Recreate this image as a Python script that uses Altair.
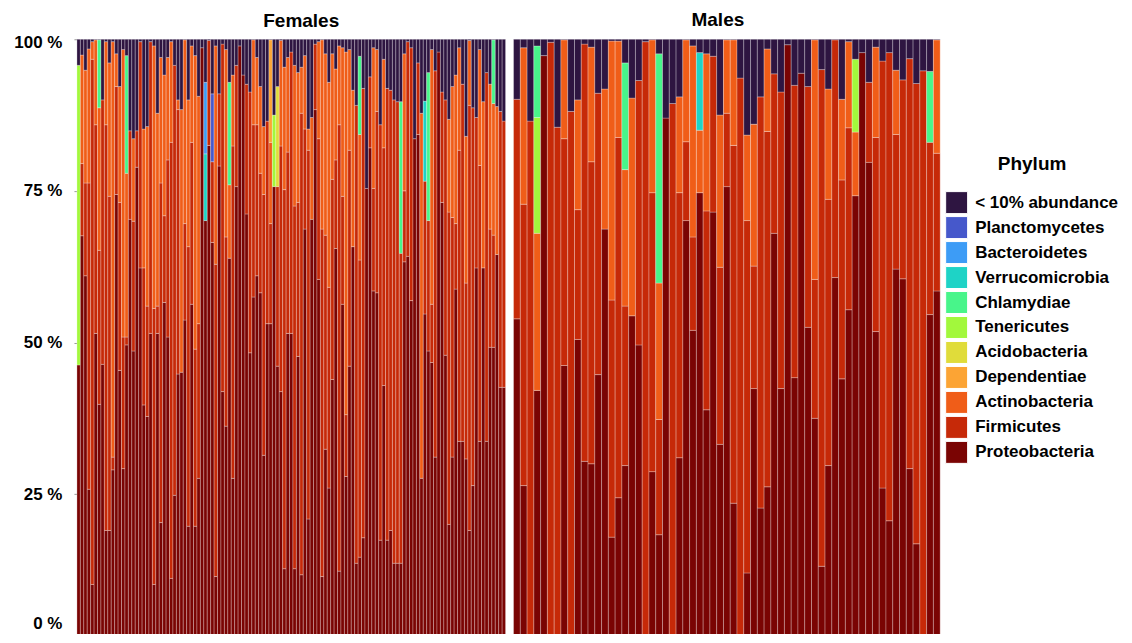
import altair as alt
import pandas as pd

PHYLA = ["< 10% abundance", "Planctomycetes", "Bacteroidetes", "Verrucomicrobia",
         "Chlamydiae", "Tenericutes", "Acidobacteria", "Dependentiae",
         "Actinobacteria", "Firmicutes", "Proteobacteria"]
COLORS = ["#2e1541", "#4658cb", "#3d9cf6", "#1ed3c6", "#48f58a", "#a2f83c",
          "#e0dc3a", "#fca434", "#f05d18", "#c62908", "#7a0403"]

# ---------------- Females (125 samples), % abundance ----------------
f_proteo = [46.3, 67.6, 61.0, 25.8, 10.1, 51.5, 39.8, 46.4, 19.0, 19.0,
            29.0, 74.4, 45.4, 29.2, 49.6, 70.3, 48.6, 78.9, 62.3, 39.7,
            37.8, 51.5, 10.1, 51.5, 20.3, 56.6, 50.9, 11.1, 24.8, 44.8,
            45.1, 53.7, 19.7, 56.3, 19.7, 27.6, 98.6, 70.1, 82.5, 66.5,
            11.4, 79.1, 41.9, 36.2, 63.9, 27.6, 75.7, 98.9, 94.1, 71.2,
            48.3, 57.5, 61.0, 58.2, 31.4, 53.1, 53.1, 75.7, 46.1, 41.9,
            12.7, 51.5, 51.5, 12.7, 47.7, 11.7, 68.7, 20.9, 70.3, 88.4,
            60.4, 11.4, 32.4, 26.0, 43.9, 65.5, 12.3, 56.3, 27.9, 46.1,
            65.8, 13.6, 14.6, 17.8, 75.4, 82.1, 58.5, 58.2, 17.4, 42.9,
            17.4, 19.0, 13.6, 13.6, 13.6, 63.3, 64.2, 56.9, 83.6, 84.3,
            27.6, 54.7, 48.6, 46.7, 31.1, 97.9, 73.1, 47.9, 20.0, 31.1,
            58.8, 33.7, 33.7, 30.8, 19.0, 26.4, 62.3, 33.7, 62.3, 33.7,
            49.2, 49.2, 64.5, 42.6, 42.6]
f_firmic = [0, 11.9, 15.3, 50.5, 86.6, 34.4, 25.4, 43.6, 66.9, 55.1,
            2.1, 17.8, 27.7, 21.7, 1.3, 14.6, 21.4, 6.0, 37.3, 22.6,
            18.2, 48.1, 45.5, 4.5, 56.0, 14.3, 29.2, 71.9, 70.9, 43.6,
            0, 15.9, 46.1, 26.7, 29.2, 25.5, 0, 0, 17.3, 13.3,
            51.5, 11.9, 57.3, 31.2, 0, 54.8, 20.0, 0, 0, 21.4,
            43.0, 28.4, 24.9, 19.7, 43.0, 33.4, 16.5, 0, 29.6, 40.5,
            62.5, 29.9, 46.4, 59.8, 25.4, 76.1, 16.5, 60.8, 0, 10.8,
            23.2, 57.3, 35.3, 33.1, 33.0, 14.6, 73.6, 17.8, 10.2, 35.6,
            0, 75.5, 49.0, 74.1, 0, 11.7, 16.9, 29.9, 68.5, 39.2,
            74.5, 72.6, 76.4, 76.1, 51.1, 11.7, 35.4, 41.7, 0, 11.8,
            0, 21.9, 21.5, 9.6, 63.7, 0, 18.2, 42.1, 51.5, 39.5,
            10.8, 48.0, 58.9, 29.0, 70.1, 62.3, 24.8, 45.5, 0, 60.8,
            19.5, 18.5, 0, 45.5, 43.9]
f_actino = [0, 17.9, 18.6, 22.1, 2.9, 14.0, 23.5, 0, 13.7, 22.0,
            68.5, 5.4, 19.1, 47.4, 27.0, 0, 13.6, 0, 0, 22.9,
            29.6, 0, 43.3, 31.8, 20.7, 23.2, 16.9, 16.6, 0, 1.6,
            43.3, 30.3, 24.2, 15.9, 48.4, 37.5, 0, 0, 0, 0,
            36.0, 0, 0, 30.9, 12.1, 11.7, 0, 0, 0, 0,
            0, 14.0, 11.1, 14.3, 11.2, 0, 13.4, 0, 0, 17.4,
            20.2, 15.6, 0, 23.2, 21.4, 7.6, 12.1, 3.5, 16.8, 0,
            16.0, 31.2, 29.9, 33.8, 20.7, 15.0, 13.0, 24.5, 59.8, 16.6,
            25.8, 0, 20.7, 0, 0, 0, 23.2, 10.2, 0, 14.6,
            0, 0, 0, 0, 0, 22.6, 0, 0, 0, 0,
            60.2, 0, 0, 42.0, 0, 0, 0, 0, 15.3, 21.6,
            24.5, 16.9, 0, 24.2, 10.7, 0, 0, 19.1, 27.4, 0,
            23.9, 21.7, 24.4, 0, 0]
# rarer phyla: sample number -> %
f_dependentiae = {57: 16.9}
f_acidobacteria = {59: 16.5}
f_tenericutes = {1: 49.4, 58: 11.8}
f_chlamydiae = {7: 11.2, 15: 19.4, 45: 16.9, 83: 12.9, 95: 25.0, 103: 24.4, 122: 10.5}
f_verrucomicrobia = {38: 11.0, 102: 13.2}
f_bacteroidetes = {38: 11.8}
f_planctomycetes = {40: 11.2}

# ---------------- Males (63 samples), % abundance ----------------
m_proteo = [53.9, 26.4, 0, 42.1, 97.3, 0, 0, 46.2, 0, 50.5,
            30.4, 30.0, 44.7, 68.7, 17.9, 24.4, 29.7, 54.4, 49.6, 0,
            28.7, 18.3, 87.0, 0, 31.0, 70.1, 52.0, 74.7, 38.9, 71.5,
            33.2, 75.7, 23.5, 0, 12.0, 42.4, 22.7, 26.2, 68.0, 42.4,
            99.1, 44.2, 94.4, 52.5, 37.5, 13.1, 29.7, 60.7, 44.0, 55.4,
            74.2, 97.8, 79.7, 51.8, 26.0, 20.6, 62.1, 60.5, 29.2, 16.8,
            0, 54.6, 58.5]
m_firmic = [36.2, 46.4, 86.5, 0, 0, 99.5, 85.5, 37.4, 88.1, 21.4,
            68.8, 49.8, 46.4, 0, 39.1, 59.4, 26.3, 0, 43.6, 99.6,
            46.0, 19.0, 0, 89.4, 43.7, 13.0, 15.4, 0, 32.8, 25.7,
            29.2, 12.1, 59.0, 93.6, 58.1, 20.2, 67.8, 58.6, 26.3, 48.9,
            0, 48.2, 0, 39.7, 22.9, 81.9, 43.9, 39.2, 32.8, 30.0,
            0, 0, 13.2, 32.0, 70.4, 77.2, 22.2, 32.8, 67.6, 75.9,
            94.8, 28.4, 22.7]
m_actino = [0, 25.8, 0, 25.9, 0, 0, 0, 16.3, 0, 18.1,
            0, 18.9, 0, 23.1, 42.7, 15.9, 22.5, 35.9, 0, 0,
            25.2, 22.5, 0, 0, 15.8, 16.8, 31.5, 10.3, 25.9, 0,
            25.1, 12.1, 17.4, 0, 14.1, 23.4, 0, 13.6, 0, 0,
            0, 0, 0, 0, 39.5, 0, 18.2, 0, 13.3, 14.2,
            10.5, 0, 0, 14.9, 0, 0, 10.6, 0, 0, 0,
            0, 0, 18.7]
m_tenericutes = {4: 19.1, 51: 12.0}
m_chlamydiae = {4: 11.8, 17: 17.6, 22: 37.8, 62: 11.7}
m_verrucomicrobia = {28: 12.8}


def build(prefix, proteo, firmic, actino, rare):
    rows = []
    for i in range(len(proteo)):
        vals = {"Proteobacteria": proteo[i], "Firmicutes": firmic[i],
                "Actinobacteria": actino[i]}
        for ph, d in rare.items():
            vals[ph] = d.get(i + 1, 0)
        vals["< 10% abundance"] = max(0.0, 100 - sum(vals.values()))
        for ph, v in vals.items():
            if v > 0:
                rows.append({"sample": f"{prefix}{i + 1:03d}", "phylum": ph,
                             "value": v, "ord": 10 - PHYLA.index(ph)})
    return pd.DataFrame(rows)


fem = build("F", f_proteo, f_firmic, f_actino, {
    "Dependentiae": f_dependentiae, "Acidobacteria": f_acidobacteria,
    "Tenericutes": f_tenericutes, "Chlamydiae": f_chlamydiae,
    "Verrucomicrobia": f_verrucomicrobia, "Bacteroidetes": f_bacteroidetes,
    "Planctomycetes": f_planctomycetes})
mal = build("M", m_proteo, m_firmic, m_actino, {
    "Tenericutes": m_tenericutes, "Chlamydiae": m_chlamydiae,
    "Verrucomicrobia": m_verrucomicrobia})

FONT = "Liberation Sans"

legend = alt.Legend(
    title="Phylum", orient="none", legendX=869, legendY=116,
    symbolType="square", symbolSize=484, symbolStrokeColor="white",
    symbolStrokeWidth=1, symbolOpacity=1,
    labelFont=FONT, labelFontSize=17, labelFontWeight="bold", labelColor="black",
    labelOffset=7, labelLimit=300, rowPadding=-2,
    labelExpr="(datum.value == '< 10% abundance' ? '\u00a0\u00a0' : '') + datum.label",
    titleFont=FONT, titleFontSize=19, titleFontWeight="bold", titleColor="black",
    titlePadding=17, titleAnchor="middle")


def panel(df, title, width, show_axis, dx, offset):
    if show_axis:
        yaxis = alt.Axis(values=[0, 25, 50, 75, 100], labelExpr="datum.value + ' %'",
                         labelFont=FONT, labelFontSize=17, labelFontWeight="bold",
                         labelColor="black", tickSize=3, tickColor="#999999",
                         labelPadding=12, domain=False, grid=False, title=None,
                         labelOffset={"condition": [
                             {"test": "datum.value == 0", "value": -22},
                             {"test": "datum.value == 100", "value": 3}], "value": 0})
    else:
        yaxis = None
    return alt.Chart(df, title=alt.Title(
        title, dx=dx, font=FONT, fontSize=19, fontWeight="bold", color="black",
        offset=offset, anchor="middle")).mark_bar(
        stroke="white", strokeWidth=0.5, strokeOpacity=0.55
    ).encode(
        x=alt.X("sample:N", axis=None, sort=None,
                scale=alt.Scale(paddingInner=0, paddingOuter=0)),
        y=alt.Y("value:Q", stack="zero", axis=yaxis,
                scale=alt.Scale(domain=[0, 100], nice=False)),
        color=alt.Color("phylum:N", scale=alt.Scale(domain=PHYLA, range=COLORS),
                        legend=legend),
        order=alt.Order("ord:Q", sort="ascending"),
    ).properties(width=width, height=607)


chart = alt.hconcat(
    panel(fem, "Females", 429, True, 10, 2),
    panel(mal, "Males", 427, False, -9, 9),
    spacing=6,
).properties(
    padding={"left": 5, "top": 2, "right": 5, "bottom": -13}
).configure_view(stroke=None)

chart.save("out.html", embed_options={"renderer": "svg", "actions": False})
